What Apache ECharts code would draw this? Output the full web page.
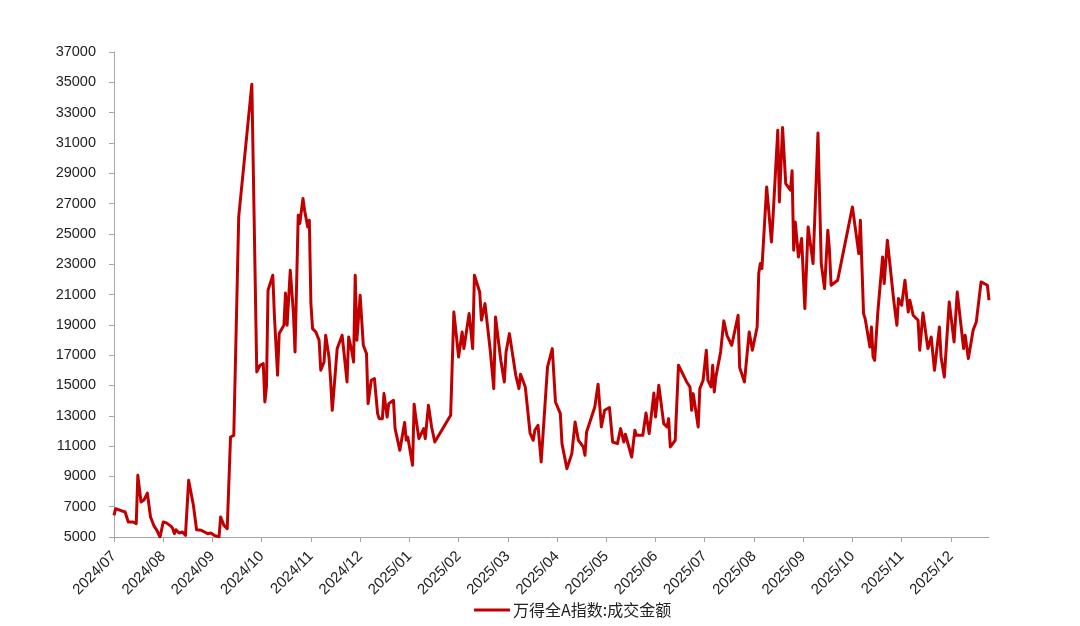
<!DOCTYPE html>
<html>
<head>
<meta charset="utf-8">
<script src="https://cdn.jsdelivr.net/npm/echarts@6/dist/echarts.min.js"></script>
<style>
html,body{margin:0;padding:0;background:#fff;}
#chart{width:1080px;height:626px;}
</style>
</head>
<body>
<div id="chart"></div>
<script>
// Month tick labels (x axis categories)
const monthLabels = ['2024/07','2024/08','2024/09','2024/10','2024/11','2024/12',
  '2025/01','2025/02','2025/03','2025/04','2025/05','2025/06',
  '2025/07','2025/08','2025/09','2025/10','2025/11','2025/12'];

const seriesName = '万得全A指数:成交金额';

// Dates (position along the month axis) and turnover values
const dates = [
'2024-07-01','2024-07-02','2024-07-05','2024-07-08','2024-07-09','2024-07-10','2024-07-11','2024-07-13','2024-07-15','2024-07-16',
'2024-07-18','2024-07-20','2024-07-22','2024-07-24','2024-07-25','2024-07-26','2024-07-28','2024-07-30','2024-08-01','2024-08-03',
'2024-08-06','2024-08-07','2024-08-08','2024-08-09','2024-08-11','2024-08-13','2024-08-15','2024-08-17','2024-08-20','2024-08-22',
'2024-08-25','2024-08-27','2024-08-29','2024-08-31','2024-09-02','2024-09-05','2024-09-06','2024-09-08','2024-09-10','2024-09-12',
'2024-09-14','2024-09-17','2024-09-25','2024-09-28','2024-09-30','2024-10-02','2024-10-03','2024-10-04','2024-10-05','2024-10-08',
'2024-10-09','2024-10-10','2024-10-11','2024-10-12','2024-10-15','2024-10-16','2024-10-17','2024-10-19','2024-10-20','2024-10-21',
'2024-10-22','2024-10-24','2024-10-25','2024-10-27','2024-10-28','2024-10-30','2024-10-31','2024-11-01','2024-11-02','2024-11-04',
'2024-11-06','2024-11-07','2024-11-09','2024-11-10','2024-11-12','2024-11-13','2024-11-14','2024-11-15','2024-11-17','2024-11-20',
'2024-11-21','2024-11-23','2024-11-24','2024-11-26','2024-11-27','2024-11-28','2024-11-29','2024-12-01','2024-12-03','2024-12-05',
'2024-12-06','2024-12-08','2024-12-10','2024-12-12','2024-12-13','2024-12-15','2024-12-16','2024-12-18','2024-12-19','2024-12-22',
'2024-12-23','2024-12-26','2024-12-29','2024-12-30','2024-12-31','2025-01-03','2025-01-04','2025-01-05','2025-01-07','2025-01-10',
'2025-01-11','2025-01-13','2025-01-15','2025-01-17','2025-01-27','2025-01-29','2025-02-01','2025-02-03','2025-02-04','2025-02-07',
'2025-02-09','2025-02-10','2025-02-13','2025-02-14','2025-02-16','2025-02-19','2025-02-21','2025-02-22','2025-02-25','2025-02-27',
'2025-02-28','2025-03-01','2025-03-02','2025-03-06','2025-03-08','2025-03-09','2025-03-12','2025-03-15','2025-03-17','2025-03-18',
'2025-03-20','2025-03-22','2025-03-26','2025-03-29','2025-03-31','2025-04-03','2025-04-04','2025-04-07','2025-04-10','2025-04-12',
'2025-04-14','2025-04-17','2025-04-18','2025-04-19','2025-04-24','2025-04-26','2025-04-28','2025-04-30','2025-05-03','2025-05-05',
'2025-05-08','2025-05-10','2025-05-12','2025-05-13','2025-05-17','2025-05-19','2025-05-20','2025-05-24','2025-05-26','2025-05-28',
'2025-05-31','2025-06-01','2025-06-03','2025-06-06','2025-06-08','2025-06-09','2025-06-10','2025-06-13','2025-06-15','2025-06-20',
'2025-06-22','2025-06-23','2025-06-24','2025-06-27','2025-06-28','2025-06-30','2025-07-02','2025-07-03','2025-07-05','2025-07-06',
'2025-07-07','2025-07-08','2025-07-11','2025-07-13','2025-07-15','2025-07-18','2025-07-19','2025-07-22','2025-07-23','2025-07-26',
'2025-07-29','2025-07-31','2025-08-03','2025-08-04','2025-08-05','2025-08-06','2025-08-09','2025-08-12','2025-08-13','2025-08-16',
'2025-08-17','2025-08-19','2025-08-21','2025-08-24','2025-08-25','2025-08-26','2025-08-27','2025-08-29','2025-08-31','2025-09-02',
'2025-09-04','2025-09-07','2025-09-10','2025-09-12','2025-09-14','2025-09-16','2025-09-17','2025-09-18','2025-09-22','2025-10-01',
'2025-10-05','2025-10-06','2025-10-08','2025-10-09','2025-10-12','2025-10-13','2025-10-14','2025-10-15','2025-10-17','2025-10-20',
'2025-10-21','2025-10-23','2025-10-27','2025-10-29','2025-10-30','2025-11-01','2025-11-03','2025-11-05','2025-11-06','2025-11-08',
'2025-11-11','2025-11-12','2025-11-13','2025-11-14','2025-11-17','2025-11-19','2025-11-21','2025-11-24','2025-11-25','2025-11-27',
'2025-11-30','2025-12-03','2025-12-05','2025-12-09','2025-12-10','2025-12-12','2025-12-15','2025-12-17','2025-12-18','2025-12-20',
'2025-12-24','2025-12-25'
];

const values = [
6430,6870,6760,6650,6650,5990,6100,5990,5880,9070,
7310,7460,7900,6320,6210,5770,5440,5000,5990,5930,
5700,5550,5220,5480,5260,5330,5110,8740,7090,5480,
5440,5330,5220,5260,5110,5000,6320,5770,5550,11600,
11710,26120,34880,15890,16330,16440,13910,14900,21280,22270,
19630,19520,15670,18420,18970,21100,18970,22600,22600,19740,
17210,26230,25680,27330,26560,25460,25900,20400,18750,18530,
17980,16000,16550,18310,16880,15340,13360,14680,17430,18310,
17320,15230,18200,17210,16550,22270,17980,20950,17650,17100,
13800,15340,15450,13140,12810,12810,14460,12920,13800,14020,
12150,10720,12560,11400,11600,9730,13760,12920,11490,12150,
11490,13690,12260,11270,13030,19850,16880,18530,17430,19740,
17430,22270,21170,19300,20400,17320,14790,19520,16660,15230,
17210,17320,18420,15670,14790,15740,14900,11860,11380,12040,
12370,9950,16220,17430,13910,13140,11160,9510,10500,12590,
11380,10940,10390,11930,13580,15080,12260,13360,13540,11270,
11160,12150,11270,11780,10280,12040,11710,11710,13180,11820,
14500,12920,15010,12480,12260,12810,10940,11380,16330,15230,
14900,13360,14460,12260,14790,15340,17320,15340,14900,16330,
14570,15560,17210,19260,18310,17650,17580,19630,16180,15230,
18530,17320,18860,22380,23040,22710,28100,24470,26120,31840,
27110,32020,28320,27880,29160,23920,25790,23480,24690,20070,
25460,23040,31660,23040,21390,25240,23920,21610,21940,26780,
23700,25900,19740,19410,17540,18860,16880,16660,19850,23480,
21720,24580,20620,18970,20730,20290,21940,19850,20620,19630,
19300,17320,17210,19780,17430,18200,16000,18860,16880,15560,
20510,17870,21170,17430,18310,16770,18640,19190,19080,21830,
21610,20620
];

// Y axis ticks
const yMin = 5000, yMax = 37000, yStep = 2000;

function daysIn(y, m) { return new Date(y, m, 0).getDate(); }
function monthPos(s) {
  const [y, m, d] = s.split('-').map(Number);
  return (y - 2024) * 12 + (m - 7) + (d - 1) / daysIn(y, m);
}

const points = dates.map((d, i) => [monthPos(d), values[i]]);
const tickIdx = monthLabels.map((_, i) => i);
const xMax = points[points.length - 1][0];

const chart = echarts.init(document.getElementById('chart'), null, {renderer: 'canvas'});
const font = '"Liberation Sans", Arial, sans-serif';
chart.setOption({
  animation: false,
  backgroundColor: '#ffffff',
  grid: {left: 114, right: 1080 - 989, top: 52, bottom: 89, containLabel: false},
  xAxis: {
    type: 'value',
    min: 0,
    max: xMax,
    interval: 1,
    splitLine: {show: false},
    axisLine: {show: true, lineStyle: {color: '#A6A6A6', width: 1}},
    axisTick: {show: true, length: 5, lineStyle: {color: '#A6A6A6'}, customValues: tickIdx},
    axisLabel: {
      customValues: tickIdx,
      rotate: 45,
      margin: 17,
      fontSize: 15,
      fontFamily: font,
      color: '#222',
      formatter: v => monthLabels[Math.round(v)] || ''
    }
  },
  yAxis: {
    type: 'value',
    min: yMin,
    max: yMax,
    interval: yStep,
    splitLine: {show: false},
    axisLine: {show: true, lineStyle: {color: '#A6A6A6', width: 1}},
    axisTick: {show: true, length: 5, lineStyle: {color: '#A6A6A6'}},
    axisLabel: {margin: 18, fontSize: 14.5, fontFamily: font, color: '#222', formatter: v => String(v)}
  },
  legend: {
    data: [seriesName],
    left: 469,
    top: 597,
    icon: 'rect',
    itemWidth: 36,
    itemHeight: 3,
    itemGap: 6,
    textStyle: {fontSize: 16, fontFamily: '"Noto Sans CJK SC", sans-serif', color: '#222', padding: [0,0,0,-2]}
  },
  series: [{
    name: seriesName,
    type: 'line',
    data: points,
    showSymbol: false,
    symbol: 'none',
    smooth: false,
    lineStyle: {color: '#C00000', width: 3, join: 'round'},
    itemStyle: {color: '#C00000'}
  }]
});
</script>
</body>
</html>
